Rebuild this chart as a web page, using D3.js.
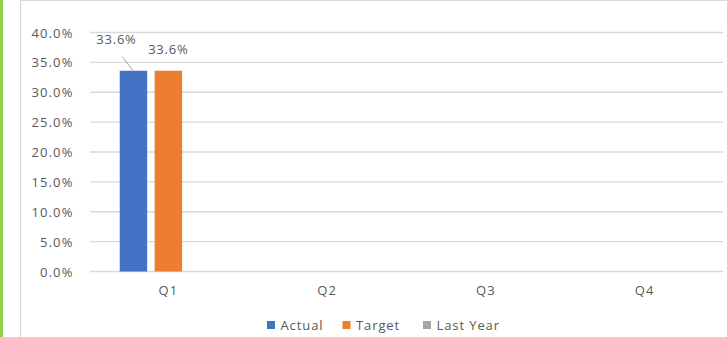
<!DOCTYPE html>
<html>
<head>
<meta charset="utf-8">
<script src="https://cdn.jsdelivr.net/npm/d3@7"></script>
<style>
  html, body { margin: 0; padding: 0; background: #fff; }
  svg { display: block; }
  text { font-family: "Open Sans", "Liberation Sans", sans-serif; fill: #595959; }
</style>
</head>
<body>
<svg id="chart" width="727" height="337"></svg>
<script>
// Quarterly results by series (null = no value yet)
const quarters = ["Q1", "Q2", "Q3", "Q4"];
const seriesNames = ["Actual", "Target", "Last Year"];
const actualValues = [0.336, null, null, null];
const targetValues = [0.336, null, null, null];
const lastYearValues = [null, null, null, null];
const yTicks = [0, 0.05, 0.10, 0.15, 0.20, 0.25, 0.30, 0.35, 0.40];

const seriesColors = { "Actual": "#4472C4", "Target": "#ED7D31", "Last Year": "#A5A5A5" };
const seriesValues = { "Actual": actualValues, "Target": targetValues, "Last Year": lastYearValues };

const svg = d3.select("#chart");
const W = 727, H = 337;
const fmt = d3.format(".1%");

// Green side strip and chart frame
svg.append("rect").attr("x", 0).attr("y", 0).attr("width", 3).attr("height", H).attr("fill", "#92D050");
svg.append("line").attr("x1", 20.5).attr("x2", 20.5).attr("y1", 0).attr("y2", H)
  .attr("stroke", "#D9D9D9").attr("stroke-width", 1.2);
svg.append("line").attr("x1", 20).attr("x2", W).attr("y1", 0.5).attr("y2", 0.5)
  .attr("stroke", "#D9D9D9").attr("stroke-width", 1.2);

const plot = { left: 89, right: 724, top: 32.5, bottom: 271.5 };

const x0 = d3.scaleBand().domain(quarters).range([plot.left, plot.right]).padding(0);
const groupFrac = 0.613;
const x1 = d3.scaleBand().domain(seriesNames)
  .range([x0.bandwidth() * (1 - groupFrac) / 2, x0.bandwidth() * (1 + groupFrac) / 2])
  .paddingInner(0.214).paddingOuter(0);
const y = d3.scaleLinear().domain([0, 0.40]).range([plot.bottom, plot.top]);

// Horizontal gridlines
svg.append("g").selectAll("line").data(yTicks).join("line")
  .attr("x1", plot.left + 1).attr("x2", plot.right - 1)
  .attr("y1", d => y(d)).attr("y2", d => y(d))
  .attr("stroke", "#D9D9D9").attr("stroke-width", 1.3);

// Y axis labels
const yAxis = d3.axisLeft(y).tickValues(yTicks).tickFormat(fmt).tickSize(0).tickPadding(0);
const yg = svg.append("g").attr("transform", `translate(73.5,0)`).call(yAxis);
yg.select(".domain").remove();
yg.selectAll("text").attr("font-size", 13).attr("letter-spacing", 1.1)
  .style("font-family", '"Open Sans", sans-serif').attr("fill", "#595959").attr("dy", "0.35em");

// Category labels
const xAxis = d3.axisBottom(x0).tickSize(0).tickPadding(0);
const xg = svg.append("g").attr("transform", `translate(0,${plot.bottom + 19})`).call(xAxis);
xg.select(".domain").remove();
xg.selectAll("text").attr("font-size", 13).attr("letter-spacing", 1)
  .style("font-family", '"Open Sans", sans-serif').attr("fill", "#595959").attr("dy", "0.35em");

// Bars
const barData = [];
quarters.forEach((q, i) => {
  seriesNames.forEach(s => {
    const v = seriesValues[s][i];
    if (v != null) barData.push({ q, s, v });
  });
});

svg.append("g").selectAll("rect").data(barData).join("rect")
  .attr("x", d => x0(d.q) + x1(d.s))
  .attr("y", d => y(d.v))
  .attr("width", x1.bandwidth())
  .attr("height", d => y(0) - y(d.v))
  .attr("fill", d => seriesColors[d.s]);

// Data labels (the Actual label sits up-left with a leader line)
const labelOffset = { "Actual": { dx: -17, dy: -31 }, "Target": { dx: 0, dy: -21 }, "Last Year": { dx: 0, dy: -21 } };
const labels = svg.append("g");
barData.forEach(d => {
  const cx = x0(d.q) + x1(d.s) + x1.bandwidth() / 2;
  const top = y(d.v);
  const off = labelOffset[d.s];
  if (d.s === "Actual") {
    labels.append("line")
      .attr("x1", cx - 0.5).attr("y1", top)
      .attr("x2", cx - 11).attr("y2", top - 14)
      .attr("stroke", "#A6A6A6").attr("stroke-width", 1);
  }
  labels.append("text")
    .attr("x", cx + off.dx).attr("y", top + off.dy)
    .attr("text-anchor", "middle").attr("dy", "0.35em")
    .attr("font-size", 13).attr("letter-spacing", 0.8)
    .text(fmt(d.v));
});

// Legend
const legendItems = [
  { s: "Actual", x: 267 },
  { s: "Target", x: 342.5 },
  { s: "Last Year", x: 423 }
];
const lg = svg.append("g");
legendItems.forEach(it => {
  lg.append("rect").attr("x", it.x).attr("y", 321).attr("width", 8).attr("height", 8)
    .attr("fill", seriesColors[it.s]);
  lg.append("text").attr("x", it.x + 13.5).attr("y", 325).attr("dy", "0.35em")
    .attr("font-size", 13).attr("letter-spacing", 0.9)
    .text(it.s);
});
</script>
</body>
</html>
